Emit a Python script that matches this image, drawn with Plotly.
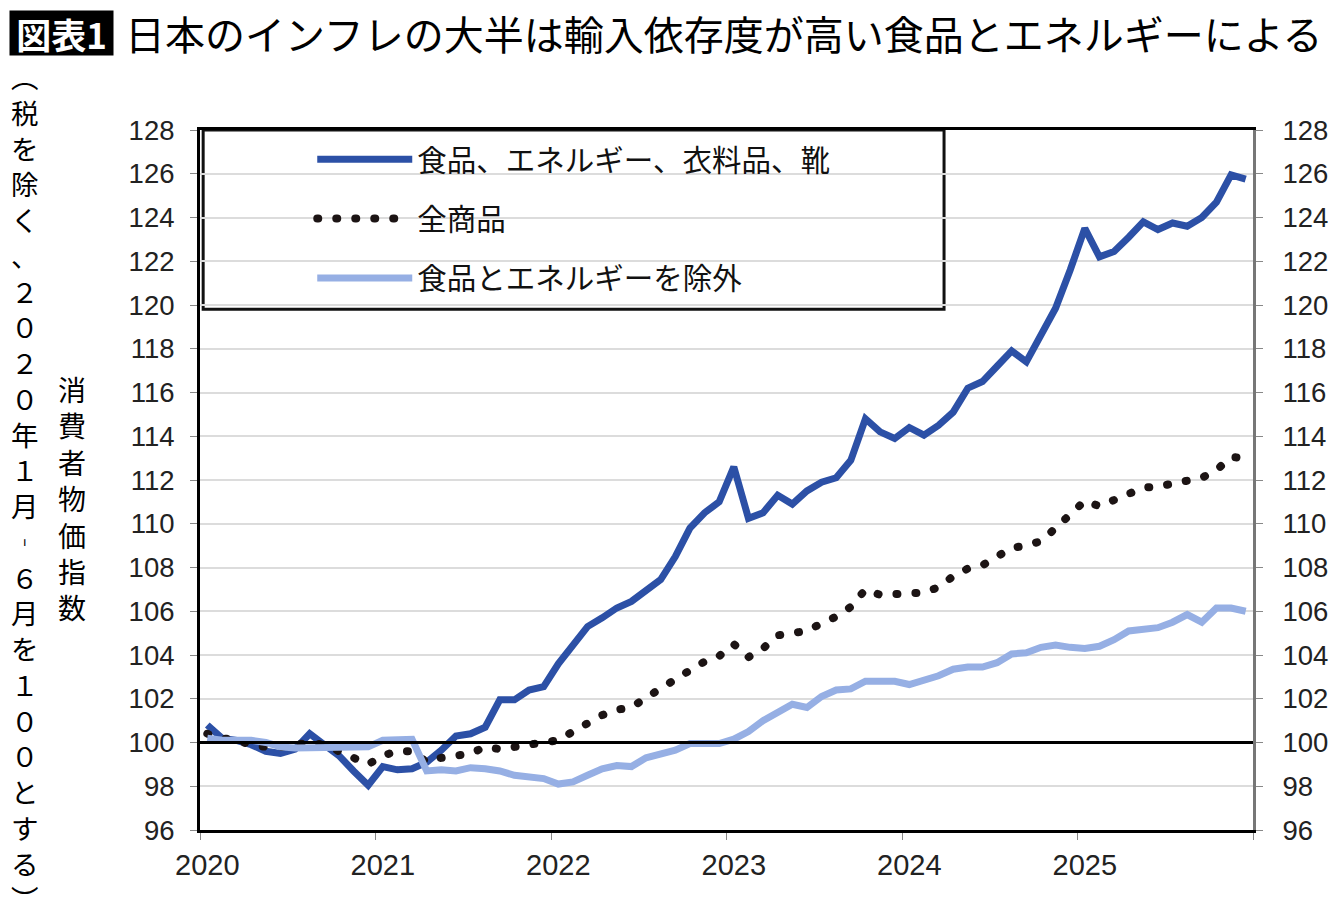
import plotly.graph_objects as go

# 月次データ 2020年1月～2025年12月 (2020年1-6月=100, 税を除く)
years = ["2020", "2021", "2022", "2023", "2024", "2025"]
months = [f"{y}-{m:02d}" for y in years for m in range(1, 13)]

core_goods = [
    100.8, 100.2, 100.1, 99.9, 99.6, 99.5, 99.7, 100.4, 99.9, 99.4, 98.7, 98.05,
    98.9, 98.75, 98.8, 99.1, 99.65, 100.3, 100.4, 100.7, 101.95, 101.95, 102.4, 102.55,
    103.6, 104.5, 105.3, 105.7, 106.15, 106.45, 107.0, 107.45, 108.5, 109.8, 110.5, 111.0,
    112.6, 110.25, 110.5, 111.3, 110.9, 111.5, 111.9, 112.1, 112.9, 114.8, 114.2, 113.9,
    114.4, 114.05, 114.5, 115.1, 116.2, 116.5, 117.2, 117.9, 117.4, 118.55, 119.85, 121.6,
    123.5, 122.2, 122.45, 123.1, 123.8, 123.45, 123.75, 123.6, 124.0, 124.7, 125.95, 125.75,
]
all_items = [
    100.4, 100.2, 100.1, 99.9, 99.8, 99.8, 99.9, 100.0, 99.9, 99.6, 99.3, 99.0,
    99.4, 99.6, 99.6, 99.1, 99.3, 99.4, 99.5, 99.8, 99.7, 99.8, 99.9, 100.0,
    100.1, 100.5, 100.9, 101.25, 101.5, 101.6, 102.05, 102.5, 102.85, 103.3, 103.7, 103.95,
    104.5, 103.9, 104.3, 104.9, 105.0, 105.1, 105.45, 105.75, 106.2, 107.0, 106.75, 106.8,
    106.8, 106.85, 107.1, 107.6, 107.95, 108.1, 108.5, 108.9, 109.0, 109.2, 109.8, 110.4,
    111.05, 110.8, 111.1, 111.4, 111.65, 111.7, 111.85, 111.95, 112.1, 112.45, 113.05, 113.0,
]
ex_food_energy = [
    100.2, 100.1, 100.1, 100.1, 100.0, 99.8, 99.75, 99.75, 99.75, 99.75, 99.75, 99.8,
    100.1, 100.15, 100.15, 98.7, 98.75, 98.7, 98.85, 98.8, 98.7, 98.5, 98.45, 98.35,
    98.1, 98.2, 98.5, 98.8, 98.95, 98.9, 99.3, 99.5, 99.65, 99.95, 99.95, 99.95,
    100.15, 100.5, 101.0, 101.4, 101.75, 101.6, 102.1, 102.4, 102.45, 102.8, 102.8, 102.8,
    102.65, 102.85, 103.05, 103.35, 103.45, 103.45, 103.65, 104.05, 104.1, 104.35, 104.45, 104.35,
    104.3, 104.4, 104.7, 105.1, 105.2, 105.25, 105.5, 105.85, 105.5, 106.15, 106.15, 106.0,
]

x = list(range(len(months)))
year_pos = [months.index(y + "-01") for y in years]

JP = "Noto Sans CJK JP"
NUM = "Liberation Sans"

fig = go.Figure()
fig.add_trace(go.Scatter(x=x, y=core_goods, name="食品、エネルギー、衣料品、靴", mode="lines",
                         line=dict(color="#2c50a6", width=7), legendgroup="a",
                         customdata=months))
fig.add_trace(go.Scatter(x=x, y=all_items, name="全商品", mode="lines",
                         line=dict(color="#1c1414", width=8, dash="1px,18px"), legendgroup="b",
                         customdata=months))
fig.add_trace(go.Scatter(x=x, y=ex_food_energy, name="食品とエネルギーを除外", mode="lines",
                         line=dict(color="#96afe4", width=7), legendgroup="c",
                         customdata=months, yaxis="y2"))

# 100 の基準線
fig.add_shape(type="line", xref="paper", x0=0, x1=1, yref="y", y0=100, y1=100,
              line=dict(color="black", width=3), layer="above")
# 凡例の枠
fig.add_shape(type="rect", xref="paper", yref="paper", x0=0.003, x1=0.7066, y0=0.744, y1=1,
              line=dict(color="#111", width=3), fillcolor="white", layer="below")

# タイトル
fig.add_annotation(text="<b>図表1</b>", xref="paper", yref="paper", x=-0.132, y=1.1386,
                   xanchor="center", yanchor="middle", showarrow=False,
                   font=dict(family=JP, size=35, color="white"), bgcolor="black",
                   borderpad=0, width=103, height=44)
fig.add_annotation(text="日本のインフレの大半は輸入依存度が高い食品とエネルギーによる",
                   xref="paper", yref="paper", x=-0.073, y=1.1386, xanchor="left", yanchor="middle",
                   showarrow=False, font=dict(family=JP, size=40, color="black"))

# 縦書きの軸ラベル
note = "︵税を除く、２０２０年１月︲６月を１００とする︶"
fig.add_annotation(text="<br>".join(note), xref="paper", yref="paper", x=-0.166, y=0.49,
                   xanchor="center", yanchor="middle", showarrow=False, align="center",
                   font=dict(family=JP, size=27.5, color="black"))
fig.add_annotation(text="<br>".join("消費者物価指数"), xref="paper", yref="paper", x=-0.122, y=0.474,
                   xanchor="center", yanchor="middle", showarrow=False, align="center",
                   font=dict(family=JP, size=28, color="black"))

fig.update_layout(
    width=1340, height=921,
    margin=dict(l=200, r=87, t=130, b=91),
    paper_bgcolor="white", plot_bgcolor="white",
    showlegend=True,
    legend=dict(x=0.1066, y=0.995, xanchor="left", yanchor="top", bgcolor="rgba(0,0,0,0)",
                borderwidth=0, font=dict(family=JP, size=29.5, color="#111"),
                tracegroupgap=18, itemwidth=95),
    xaxis=dict(range=[-0.5, len(months) - 0.5], tickvals=year_pos, ticktext=years,
               ticks="", showgrid=False, zeroline=False,
               showline=True, linecolor="black", linewidth=3, mirror=True,
               ticklabelstandoff=7,
               tickfont=dict(family=NUM, size=29, color="#222"),
               minor=dict(ticks="outside", tick0=-0.5, dtick=12, ticklen=7,
                          tickcolor="#888", tickwidth=1, showgrid=False)),
    yaxis=dict(range=[96, 128], dtick=2, showgrid=True, gridcolor="#dcdcdc", gridwidth=2,
               zeroline=False, showline=True, linecolor="black", linewidth=3,
               ticks="outside", ticklen=7, tickcolor="#888", ticklabelstandoff=10,
               tickfont=dict(family=NUM, size=27.5, color="#222")),
    yaxis2=dict(range=[96, 128], dtick=2, overlaying="y", side="right", showgrid=False,
                zeroline=False, showline=True, linecolor="#777", linewidth=3,
                ticks="outside", ticklen=7, tickcolor="#888", ticklabelstandoff=14,
                tickfont=dict(family=NUM, size=27.5, color="#222")),
)

page_fix = """
document.body.style.margin = '0';
var gd = document.getElementsByClassName('plotly-graph-div')[0];
function roundDots() {
  gd.querySelectorAll('path.js-line').forEach(function (p) {
    var d = p.style.strokeDasharray;
    if (d && d !== 'none') { p.style.strokeLinecap = 'round'; }
  });
}
roundDots();
gd.on('plotly_afterplot', roundDots);
"""

fig.write_html("out.html", post_script=page_fix, config={"displayModeBar": False})
